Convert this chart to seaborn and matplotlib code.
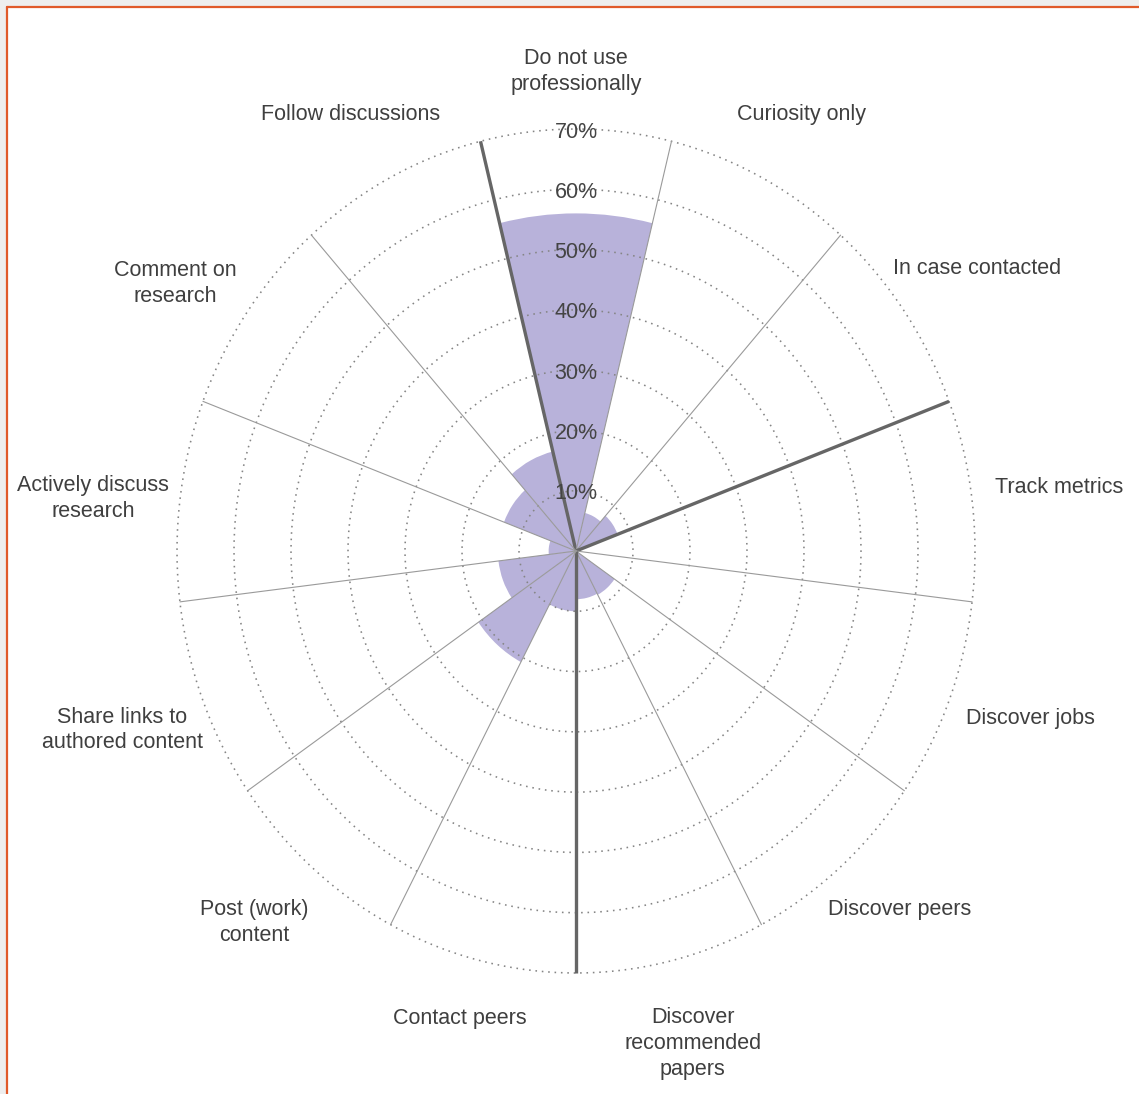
import numpy as np
import pandas as pd
import matplotlib
matplotlib.use("Agg")
import matplotlib.pyplot as plt
import matplotlib.transforms as mtransforms
import seaborn as sns
from matplotlib.patches import Rectangle
from matplotlib.lines import Line2D

# ---------------- data ----------------
categories = [
    "Do not use\nprofessionally",
    "Curiosity only",
    "In case contacted",
    "Track metrics",
    "Discover jobs",
    "Discover peers",
    "Discover\nrecommended\npapers",
    "Contact peers",
    "Post (work)\ncontent",
    "Share links to\nauthored content",
    "Actively discuss\nresearch",
    "Comment on\nresearch",
    "Follow discussions",
]
values = [56, 6.5, 7.8, 0, 0, 8.2, 8, 10, 20.8, 13.7, 4.8, 13.5, 17]
r_ticks = [10, 20, 30, 40, 50, 60, 70]
tick_labels = ["10%", "20%", "30%", "40%", "50%", "60%", "70%"]
group_starts = [0, 3, 7]   # categories that begin a new group (thick spoke before them)

# ---------------- layout (label placement, polar coords) ----------------
label_angle_deg = [0, 28.6, 56.2, 82.7, 109, 136.2, 165.9, 194.8, 222.6, 249.7, 276, 302.4, 331.4]
label_radius = [79.8, 82.7, 84.7, 85.4, 84.4, 82.0, 84.0, 79.9, 83.4, 84.9, 85.2, 83.2, 82.7]

# ---------------- style ----------------
sns.set_theme(style="white")
plt.rcParams["font.family"] = ["Liberation Sans", "DejaVu Sans"]

W, H = 1139, 1094
fig = plt.figure(figsize=(W / 100, H / 100), dpi=100)
fig.patch.set_facecolor("white")
# light grey page margins (top and left)
fig.patches.append(Rectangle((0, 1 - 7 / H), 1, 7 / H, transform=fig.transFigure,
                             facecolor="#eeeeee", edgecolor="none", zorder=-5))
fig.patches.append(Rectangle((0, 0), 7 / W, 1, transform=fig.transFigure,
                             facecolor="#eeeeee", edgecolor="none", zorder=-5))
fig.lines.append(Line2D([7 / W, 7 / W], [0, 1 - 7 / H], transform=fig.transFigure,
                        color="#e05a2a", lw=1.6, zorder=-4))
fig.lines.append(Line2D([7 / W, 1], [1 - 7 / H, 1 - 7 / H], transform=fig.transFigure,
                        color="#e05a2a", lw=1.6, zorder=-4))

cx, cy, RX, RY = 576, 551, 399, 422
ax = fig.add_axes([(cx - RX) / W, (H - cy - RY) / H, 2 * RX / W, 2 * RY / H], projection="polar")
ax.set_aspect("auto")
ax.set_zorder(2)
ax.set_facecolor("none")
ax.set_theta_zero_location("N")
ax.set_theta_direction(-1)

n = len(categories)
step = 2 * np.pi / n
theta = np.arange(n) * step
df = pd.DataFrame({"theta": theta, "value": values, "category": categories})

sns.barplot(data=df, x="theta", y="value", native_scale=True, orient="x", width=1.0,
            color="#b8b2da", saturation=1, linewidth=0, edgecolor="none", ax=ax, zorder=1)

rmax = r_ticks[-1]
ax.set_xlim(0, 2 * np.pi)
ax.set_ylim(0, rmax)
ax.set_xlabel("")
ax.set_ylabel("")
ax.set_xticks([])
ax.set_yticks([])
ax.grid(False)
ax.spines["polar"].set_visible(False)

# dotted grid circles
tt = np.linspace(0, 2 * np.pi, 721)
for r in r_ticks:
    ax.plot(tt, np.full_like(tt, r), color="#858585", lw=1.15, linestyle=(0, (1, 3)),
            zorder=2, clip_on=False)

# spokes
for k in range(n):
    t = theta[k] - step / 2
    if k in group_starts:
        ax.plot([t, t], [0, rmax], color="#666666", lw=2.4, zorder=3, clip_on=False,
                solid_capstyle="butt")
    else:
        ax.plot([t, t], [0, rmax], color="#9a9a9a", lw=0.8, zorder=3, clip_on=False)

# small downward nudge for text (pixels)
tick_tr = ax.transData + mtransforms.ScaledTranslation(0, -3 / 100, fig.dpi_scale_trans)
lab_tr = ax.transData + mtransforms.ScaledTranslation(0, -1.5 / 100, fig.dpi_scale_trans)

# radial tick labels
for r, lab in zip(r_ticks, tick_labels):
    ax.text(0, r, lab, ha="center", va="center", fontsize=15.5, color="#444444", zorder=4,
            transform=tick_tr)

# category labels
for a, rr, lab in zip(label_angle_deg, label_radius, categories):
    ax.text(np.deg2rad(a), rr, lab, ha="center", va="center", fontsize=15.5, color="#3f3f3f",
            linespacing=1.3, zorder=4, clip_on=False, transform=lab_tr)

fig.savefig("out.png", dpi=100, facecolor=fig.get_facecolor())
